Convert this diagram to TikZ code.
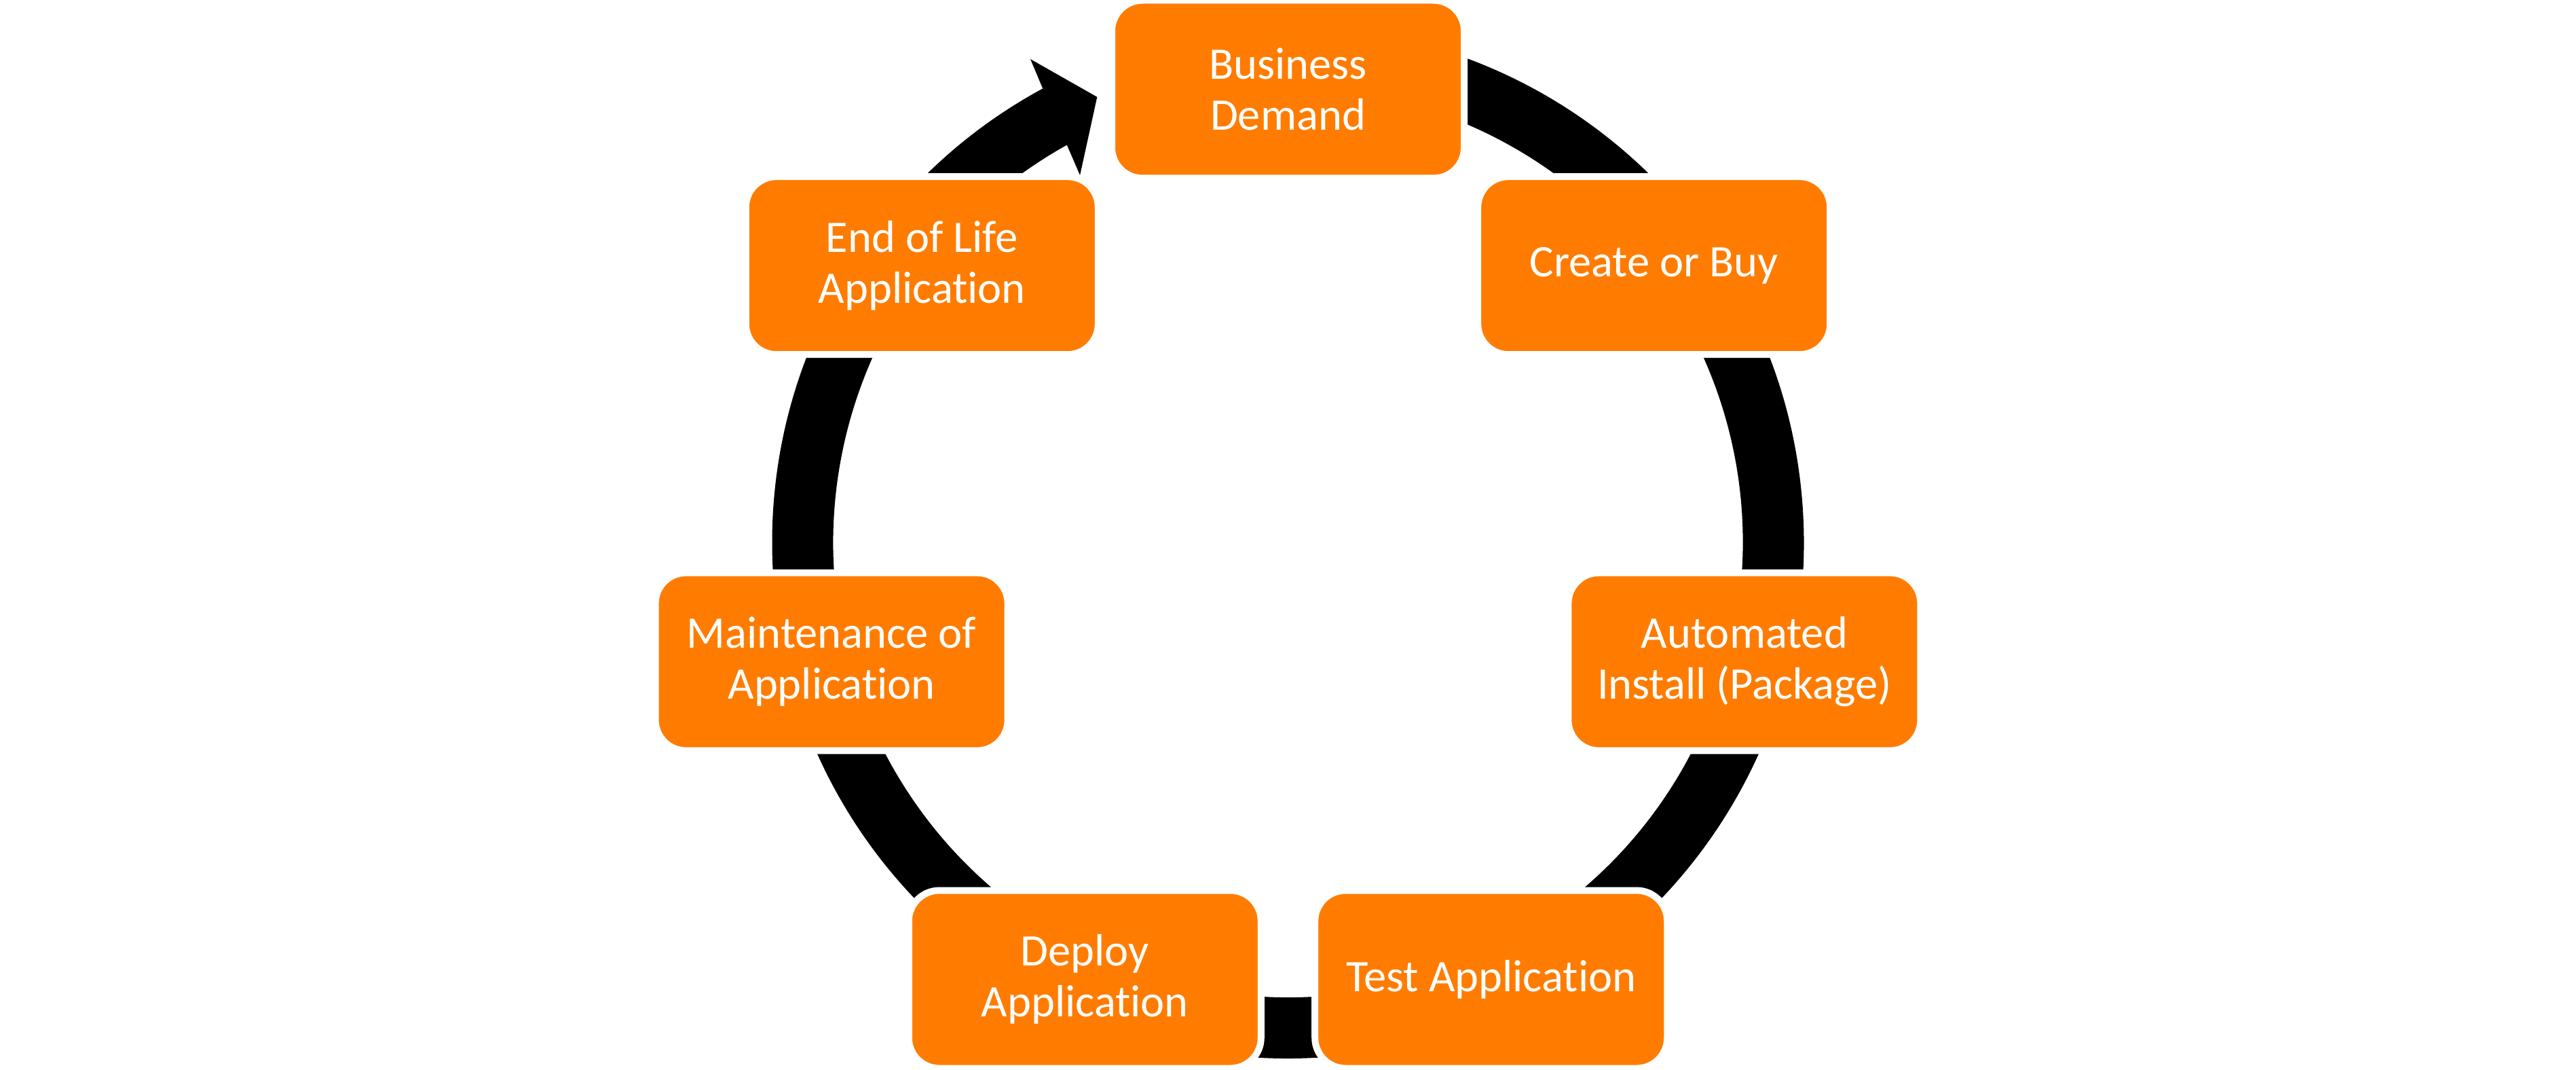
\documentclass[tikz,border=0pt]{standalone}
\usepackage{fontspec}
\setmainfont{Carlito}[Ligatures=NoCommon]
\usepackage{xcolor}
\definecolor{accent}{HTML}{FF7C00}

\begin{document}
\begin{tikzpicture}[
        phase/.style={rectangle, rounded corners=0.45cm, fill=accent, draw=white,
            line width=0.1cm, minimum width=5.19cm, minimum height=2.62cm,
            inner sep=0pt, align=center, text=white,
            font=\fontsize{18.92}{21.34}\selectfont}
    ]
        \useasboundingbox (0,0) rectangle (37.95,15.75);
        \fill[white] (0,0) rectangle (37.95,15.75);
        \coordinate (hub) at (18.975,7.76);
        \coordinate (ring) at (18.975,7.538);
        % ring with arrowhead
        \begin{scope}[shift={(hub)}]
            \fill[black] (95:7.6)
                arc[start angle=95, end angle=-241.61, radius=7.6]
                -- (-241.94:8.068)
                -- (-246.8:7.139)
                -- (-240.47:6.218)
                -- (-240.91:6.7)
                arc[start angle=-240.91, end angle=95, radius=6.7]
                -- cycle;
        \end{scope}
        \node[phase] (demand) at ([shift={(90:6.897)}]ring) {Business\\Demand};
        \node[phase] (create) at ([shift={(38.571:6.897)}]ring) {Create or Buy};
        \node[phase] (install) at ([shift={(-12.857:6.897)}]ring) {Automated\\Install (Package)};
        \node[phase] (testapp) at ([shift={(-64.286:6.897)}]ring) {Test Application};
        \node[phase] (deploy) at ([shift={(-115.714:6.897)}]ring) {Deploy\\Application};
        \node[phase] (maintain) at ([shift={(-167.143:6.897)}]ring) {Maintenance of\\Application};
        \node[phase] (eol) at ([shift={(141.429:6.897)}]ring) {End of Life\\Application};
    \end{tikzpicture}
\end{document}
